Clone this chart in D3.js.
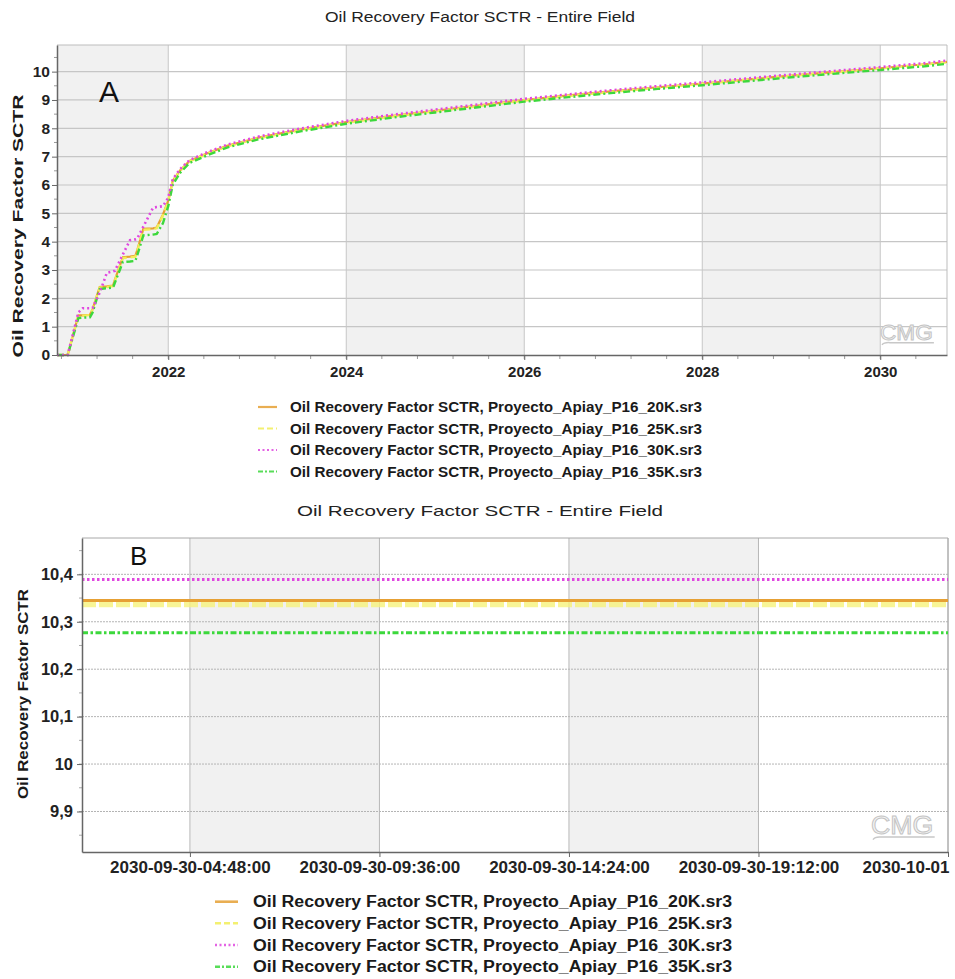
<!DOCTYPE html>
<html>
<head>
<meta charset="utf-8">
<script src="https://cdn.jsdelivr.net/npm/d3@7"></script>
<style>
  html, body { margin: 0; padding: 0; background: #fff; }
  svg { display: block; font-family: "Liberation Sans", Arial, sans-serif; }
</style>
</head>
<body>
<svg id="chart" width="955" height="979"></svg>
<script>
// ---- Data -------------------------------------------------------------
const seriesNames = [
  "Oil Recovery Factor SCTR, Proyecto_Apiay_P16_20K.sr3",
  "Oil Recovery Factor SCTR, Proyecto_Apiay_P16_25K.sr3",
  "Oil Recovery Factor SCTR, Proyecto_Apiay_P16_30K.sr3",
  "Oil Recovery Factor SCTR, Proyecto_Apiay_P16_35K.sr3"
];

// Simulation time (decimal years) for the full-field history/forecast
const tYears = [2020.75, 2020.87, 2020.99, 2021.04, 2021.12, 2021.15, 2021.23, 2021.31, 2021.38, 2021.40,
  2021.49, 2021.57, 2021.63, 2021.65, 2021.72, 2021.83, 2021.87, 2021.94, 2022.0, 2022.05,
  2022.13, 2022.24, 2022.44, 2022.66, 2023.0, 2023.5, 2024.0, 2024.5, 2025.0, 2025.5,
  2026.0, 2026.5, 2027.0, 2027.5, 2028.0, 2028.5, 2029.0, 2029.5, 2030.0, 2030.5, 2030.75];

const rf20K = [0, 0, 1.40, 1.40, 1.42, 1.62, 2.40, 2.42, 2.45, 2.65,
  3.45, 3.47, 3.50, 3.68, 4.45, 4.47, 4.50, 4.95, 5.45, 6.15,
  6.50, 6.85, 7.12, 7.38, 7.66, 7.96, 8.22, 8.43, 8.62, 8.81,
  9.00, 9.16, 9.31, 9.45, 9.58, 9.72, 9.86, 9.99, 10.12, 10.26, 10.345];
const rf25K = [0, 0, 1.38, 1.39, 1.41, 1.60, 2.38, 2.40, 2.43, 2.62,
  3.42, 3.44, 3.47, 3.65, 4.42, 4.44, 4.47, 4.92, 5.42, 6.12,
  6.48, 6.83, 7.10, 7.36, 7.64, 7.94, 8.20, 8.41, 8.60, 8.79,
  8.98, 9.14, 9.29, 9.43, 9.57, 9.71, 9.85, 9.98, 10.11, 10.25, 10.337];
const rf30K = [0, 0, 1.50, 1.65, 1.65, 1.66, 2.20, 2.90, 2.95, 2.97,
  3.55, 4.05, 4.08, 4.10, 4.53, 5.20, 5.22, 5.25, 5.55, 6.20,
  6.55, 6.88, 7.16, 7.42, 7.70, 8.00, 8.26, 8.47, 8.66, 8.85,
  9.04, 9.20, 9.35, 9.49, 9.62, 9.76, 9.90, 10.03, 10.16, 10.30, 10.389];
const rf35K = [0, 0, 1.30, 1.32, 1.33, 1.50, 2.33, 2.36, 2.38, 2.55,
  3.28, 3.30, 3.32, 3.50, 4.22, 4.25, 4.27, 4.65, 5.25, 6.00,
  6.42, 6.78, 7.05, 7.32, 7.60, 7.90, 8.16, 8.37, 8.56, 8.75,
  8.94, 9.10, 9.25, 9.39, 9.52, 9.66, 9.80, 9.93, 10.06, 10.19, 10.277];

// Last simulated day (detail view)
const dayTimes = ["2030-09-30T02:04:00Z", "2030-10-01T00:00:00Z"];
const day20K = [10.345, 10.345];
const day25K = [10.337, 10.337];
const day30K = [10.389, 10.389];
const day35K = [10.277, 10.277];

// Tick labels
const yearTicks = [2022, 2024, 2026, 2028, 2030];
const rfTicks = [0, 1, 2, 3, 4, 5, 6, 7, 8, 9, 10];
const dayTicks = ["2030-09-30T04:48:00Z", "2030-09-30T09:36:00Z", "2030-09-30T14:24:00Z",
  "2030-09-30T19:12:00Z", "2030-10-01T00:00:00Z"];
const dayRfTicks = [9.9, 10.0, 10.1, 10.2, 10.3, 10.4];

const chartTitle = "Oil Recovery Factor SCTR - Entire  Field";
const yTitle = "Oil Recovery Factor SCTR";

// ---- Styles -----------------------------------------------------------
const colors = ["#E6A034", "#F2EE58", "#E048E0", "#3CD83C"];
const dashTop = [null, "7,4", "2,3", "7,3,2,3"];
const widthTop = [2.2, 2.4, 2.6, 2.4];
const dashBot = [null, "14,3", "2.5,2.5", "6,2.5,2.5,2.5"];
const widthBot = [3, 6, 3, 3];
const BAND = "#f1f1f1", GRID = "#c6c6c6", AXIS = "#666";

const svg = d3.select("#chart");
const parse = d3.utcParse("%Y-%m-%dT%H:%M:%SZ");
const commaLocale = d3.formatLocale({decimal: ",", thousands: ".", grouping: [3], currency: ["", ""]});
const fmtComma = commaLocale.format(".3~g");

function logo(g, x, y, size) {
  const l = g.append("g").attr("transform", `translate(${x},${y})`);
  l.append("text").text("CMG")
    .attr("font-size", size).attr("font-family", "Liberation Sans, Arial, sans-serif")
    .attr("fill", "#f4f4f4").attr("stroke", "#c4c4c4").attr("stroke-width", 1)
    .attr("textLength", size * 2.4).attr("lengthAdjust", "spacingAndGlyphs");
  l.append("path")
    .attr("d", `M2,${size * 0.22} Q4,${size * 0.1} 10,${size * 0.12} L${size * 2.45},${size * 0.12}`)
    .attr("fill", "none").attr("stroke", "#c8c8c8").attr("stroke-width", 1.5);
}

function styleAxis(g, size) {
  g.select(".domain").attr("stroke", AXIS).attr("stroke-width", 1.5);
  g.selectAll(".tick line").attr("stroke", AXIS);
  g.selectAll(".tick text").attr("font-size", size).attr("font-weight", "bold")
    .attr("fill", "#222").attr("font-family", "Liberation Sans, Arial, sans-serif");
}

function legend(g, x0, x1, tx, rows, width, fsize, lw) {
  seriesNames.forEach((name, i) => {
    const y = rows[i];
    g.append("line").attr("x1", x0).attr("x2", x1).attr("y1", y).attr("y2", y)
      .attr("stroke", colors[i]).attr("stroke-width", lw[i]).attr("opacity", 0.85)
      .attr("stroke-dasharray", i === 0 ? null : (i === 1 ? "6,3" : i === 2 ? "2,2.5" : "5,2,2,2"));
    g.append("text").attr("x", tx).attr("y", y + fsize * 0.36).text(name)
      .attr("font-size", fsize).attr("font-weight", "bold").attr("fill", "#1a1a1a")
      .attr("textLength", width).attr("lengthAdjust", "spacingAndGlyphs");
  });
}

// ---- Panel A: entire field ----------------------------------------------
{
  const L = 57, R = 947, T = 45, B = 355;
  const x = d3.scaleLinear().domain([2020.75, 2030.75]).range([L, R]);
  const y = d3.scaleLinear().domain([0, 10.94]).range([B, T]);
  const g = svg.append("g");

  g.append("text").attr("x", 480).attr("y", 22).attr("text-anchor", "middle")
    .attr("font-size", 14).attr("fill", "#222").text(chartTitle)
    .attr("textLength", 310).attr("lengthAdjust", "spacingAndGlyphs");

  const bounds = [x.domain()[0], ...yearTicks, x.domain()[1]];
  d3.pairs(bounds).forEach(([a, b], i) => {
    g.append("rect").attr("x", x(a)).attr("y", T).attr("width", x(b) - x(a)).attr("height", B - T)
      .attr("fill", i % 2 === 0 ? BAND : "#fff");
  });
  g.selectAll(".hg").data(rfTicks.slice(1)).join("line")
    .attr("x1", L).attr("x2", R).attr("y1", d => y(d)).attr("y2", d => y(d))
    .attr("stroke", GRID).attr("stroke-width", 1.2);
  g.selectAll(".vg").data(yearTicks).join("line")
    .attr("x1", d => x(d)).attr("x2", d => x(d)).attr("y1", T).attr("y2", B)
    .attr("stroke", GRID).attr("stroke-width", 1);
  g.append("path").attr("d", `M${L},${T}H${R}V${B}`).attr("fill", "none").attr("stroke", "#bdbdbd");

  logo(g, 880, 340, 22);

  g.append("text").attr("x", 99).attr("y", 102).attr("font-size", 30).attr("fill", "#111").text("A");

  const ySeries = [rf20K, rf25K, rf30K, rf35K];
  const line = d3.line().x(d => x(d[0])).y(d => y(d[1]));
  [0, 1, 3, 2].forEach(i => {
    g.append("path").datum(d3.zip(tYears, ySeries[i])).attr("d", line)
      .attr("fill", "none").attr("stroke", colors[i]).attr("stroke-width", widthTop[i])
      .attr("stroke-dasharray", dashTop[i]);
  });

  // minor ticks
  g.selectAll(".mx").data(d3.range(2020.8, 2030.75, 0.4)).join("line")
    .attr("x1", d => x(d)).attr("x2", d => x(d)).attr("y1", B).attr("y2", B + 4).attr("stroke", "#999");
  g.selectAll(".my").data(d3.range(0.5, 10.9, 1)).join("line")
    .attr("x1", L - 3).attr("x2", L).attr("y1", d => y(d)).attr("y2", d => y(d)).attr("stroke", "#999");

  const ax = g.append("g").attr("transform", `translate(0,${B})`)
    .call(d3.axisBottom(x).tickValues(yearTicks).tickFormat(d3.format("d")).tickSize(5).tickPadding(6).tickSizeOuter(0));
  styleAxis(ax, 15);
  const ay = g.append("g").attr("transform", `translate(${L},0)`)
    .call(d3.axisLeft(y).tickValues(rfTicks).tickFormat(d3.format("d")).tickSize(5).tickPadding(2).tickSizeOuter(0));
  styleAxis(ay, 15.5);

  g.append("text").attr("transform", "translate(23,226) rotate(-90)").attr("text-anchor", "middle")
    .attr("font-size", 15).attr("font-weight", "bold").attr("fill", "#1a1a1a").text(yTitle)
    .attr("textLength", 263).attr("lengthAdjust", "spacingAndGlyphs");

  legend(g, 258, 277, 290, [407, 428.5, 450, 471.5], 412, 14, [2.2, 2.2, 2.2, 2.2]);
}

// ---- Panel B: last simulated day ---------------------------------------
{
  const L = 82, R = 948, T = 538, B = 852;
  const dates = dayTimes.map(parse);
  const x = d3.scaleUtc().domain(dates).range([L, R]);
  const y = d3.scaleLinear().domain([9.8146, 10.4766]).range([B, T]);
  const g = svg.append("g");
  const tickDates = dayTicks.map(parse);

  g.append("text").attr("x", 480).attr("y", 516).attr("text-anchor", "middle")
    .attr("font-size", 15).attr("fill", "#222").text(chartTitle)
    .attr("textLength", 366).attr("lengthAdjust", "spacingAndGlyphs");

  const bounds = [dates[0], ...tickDates];
  d3.pairs(bounds).forEach(([a, b], i) => {
    g.append("rect").attr("x", x(a)).attr("y", T).attr("width", x(b) - x(a)).attr("height", B - T)
      .attr("fill", i % 2 === 1 ? BAND : "#fff");
  });
  g.selectAll(".hg").data(dayRfTicks).join("line")
    .attr("x1", L).attr("x2", R).attr("y1", d => y(d)).attr("y2", d => y(d))
    .attr("stroke", "#b4b4b4").attr("stroke-width", 1).attr("stroke-dasharray", "2,1");
  g.selectAll(".vg").data(tickDates).join("line")
    .attr("x1", d => x(d)).attr("x2", d => x(d)).attr("y1", T).attr("y2", B)
    .attr("stroke", "#b8b8b8").attr("stroke-width", 1);
  g.append("path").attr("d", `M${L},${T}H${R}V${B}`).attr("fill", "none").attr("stroke", "#a8a8a8");

  logo(g, 871, 834, 26);

  g.append("text").attr("x", 130).attr("y", 565).attr("font-size", 26).attr("fill", "#111").text("B");

  const ySeries = [day20K, day25K, day30K, day35K];
  const line = d3.line().x(d => x(d[0])).y(d => y(d[1]));
  [1, 0, 2, 3].forEach(i => {
    g.append("path").datum(d3.zip(dates, ySeries[i])).attr("d", line)
      .attr("fill", "none").attr("stroke", i === 1 ? "#F6F27C" : colors[i]).attr("stroke-width", widthBot[i])
      .attr("stroke-dasharray", dashBot[i]).attr("opacity", i === 1 ? 0.8 : 1);
  });

  const fmtFull = d3.utcFormat("%Y-%m-%d-%H:%M:%S"), fmtDay = d3.utcFormat("%Y-%m-%d");
  const ax = g.append("g").attr("transform", `translate(0,${B})`)
    .call(d3.axisBottom(x).tickValues(tickDates)
      .tickFormat(d => (d.getUTCHours() === 0 && d.getUTCMinutes() === 0) ? fmtDay(d) : fmtFull(d))
      .tickSize(5).tickPadding(4).tickSizeOuter(0));
  styleAxis(ax, 17);
  ax.selectAll(".tick text").filter((d, i, n) => i === n.length - 1).attr("text-anchor", "end").attr("x", 1);

  g.selectAll(".my").data(d3.range(9.85, 10.46, 0.05)).join("line")
    .attr("x1", L - 3).attr("x2", L).attr("y1", d => y(d)).attr("y2", d => y(d)).attr("stroke", "#aaa");
  const ay = g.append("g").attr("transform", `translate(${L},0)`)
    .call(d3.axisLeft(y).tickValues(dayRfTicks).tickFormat(fmtComma).tickSize(5).tickPadding(4).tickSizeOuter(0));
  styleAxis(ay, 16.5);

  g.append("text").attr("transform", "translate(28,694) rotate(-90)").attr("text-anchor", "middle")
    .attr("font-size", 15).attr("font-weight", "bold").attr("fill", "#1a1a1a").text(yTitle)
    .attr("textLength", 210).attr("lengthAdjust", "spacingAndGlyphs");

  legend(g, 215, 238, 253, [901.7, 923.3, 945, 966.7], 479, 16, [2.6, 2.6, 2.6, 2.6]);
}
</script>
</body>
</html>
